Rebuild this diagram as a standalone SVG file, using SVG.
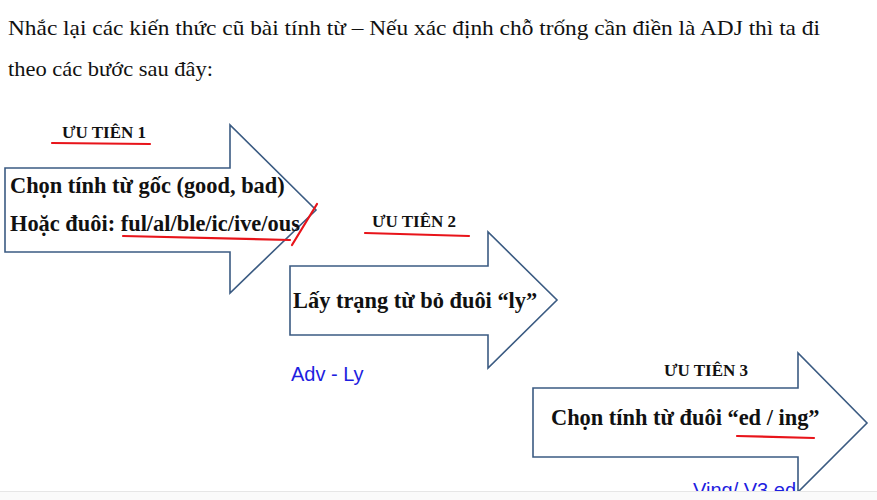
<svg xmlns="http://www.w3.org/2000/svg" width="877" height="500" viewBox="0 0 877 500">
<style>
.arrow{fill:#fff;stroke:#3b5b82;stroke-width:1.6;stroke-linejoin:miter}
.hdr{font-family:"Liberation Serif","Times New Roman",serif;font-size:21px;fill:#111}
.tag{font-family:"Liberation Serif","Times New Roman",serif;font-size:17px;font-weight:bold;fill:#111}
.main{font-family:"Liberation Serif","Times New Roman",serif;font-size:22.4px;font-weight:bold;fill:#111}
.note{font-family:"Liberation Sans",Arial,sans-serif;font-size:20px;fill:#1e1ee0}
.red{stroke:#e8141a;stroke-width:2.2;fill:none;stroke-linecap:round}
</style>
<rect width="877" height="500" fill="#fff"/>
<g id="header">
<text class="hdr" x="8" y="35" textLength="812" lengthAdjust="spacingAndGlyphs">Nhắc lại các kiến thức cũ bài tính từ – Nếu xác định chỗ trống cần điền là ADJ thì ta đi</text>
<text class="hdr" x="8" y="76" textLength="205" lengthAdjust="spacingAndGlyphs">theo các bước sau đây:</text>
</g>
<g id="step1">
<polygon class="arrow" points="5,168 230,168 230,125 316,210 230,293 230,252 5,252"/>
<text class="tag" x="62" y="138">ƯU TIÊN 1</text>
<path class="red" d="M52,143 L150,144"/>
<text class="main" x="10" y="193">Chọn tính từ gốc (good, bad)</text>
<text class="main" x="10" y="231">Hoặc đuôi: ful/al/ble/ic/ive/ous</text>
<path class="red" d="M123,236 Q200,238 290,240"/>
<path class="red" d="M292,245 L317,204"/>
</g>
<g id="step2">
<polygon class="arrow" points="290,266 488,266 488,232 557,300 488,368 488,335 290,335"/>
<text class="tag" x="372" y="227">ƯU TIÊN 2</text>
<path class="red" d="M365,233 L469,236"/>
<text class="main" x="293" y="308">Lấy trạng từ bỏ đuôi “ly”</text>
<text class="note" x="291" y="381">Adv - Ly</text>
</g>
<g id="step3">
<polygon class="arrow" points="533,388 798,388 798,353 867,423 798,492 798,457 533,457"/>
<text class="tag" x="664" y="376">ƯU TIÊN 3</text>
<text class="main" x="551" y="425">Chọn tính từ đuôi “ed / ing”</text>
<path class="red" d="M737,436 L814,438"/>
<text class="note" x="693" y="497">Ving/ V3 ed</text>
</g>
<rect x="0" y="491" width="877" height="9" fill="#fafafa"/>
<line x1="0" y1="491.5" x2="877" y2="491.5" stroke="#e6e6e6" stroke-width="1"/>
</svg>
